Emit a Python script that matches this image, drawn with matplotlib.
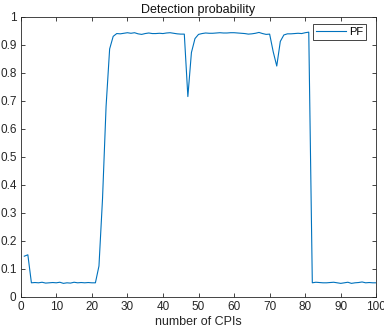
import matplotlib.pyplot as plt

plt.rcParams['font.family'] = ['Liberation Sans', 'DejaVu Sans']

# number of CPIs 1..100
cpi = list(range(1, 101))
pf = [0.145, 0.150, 0.050, 0.051, 0.050, 0.052, 0.049, 0.050, 0.051, 0.050,
      0.052, 0.048, 0.050, 0.049, 0.052, 0.050, 0.051, 0.050, 0.051, 0.050,
      0.050, 0.110, 0.350, 0.680, 0.885, 0.930, 0.940, 0.939, 0.941, 0.943,
      0.941, 0.943, 0.939, 0.937, 0.940, 0.942, 0.940, 0.940, 0.941, 0.940,
      0.942, 0.943, 0.941, 0.939, 0.938, 0.938, 0.715, 0.872, 0.922, 0.937,
      0.940, 0.942, 0.941, 0.941, 0.942, 0.943, 0.942, 0.942, 0.943, 0.943,
      0.942, 0.941, 0.940, 0.938, 0.939, 0.941, 0.944, 0.940, 0.937, 0.938,
      0.875, 0.824, 0.912, 0.935, 0.939, 0.939, 0.940, 0.941, 0.940, 0.943,
      0.945, 0.050, 0.052, 0.051, 0.050, 0.050, 0.051, 0.052, 0.050, 0.048,
      0.050, 0.052, 0.048, 0.050, 0.051, 0.053, 0.050, 0.051, 0.050, 0.050]

fig = plt.figure(figsize=(3.84, 3.35), dpi=100)
ax = fig.add_axes([0.054, 0.114, 0.926, 0.836])
ax.plot(cpi, pf, color='#0072BD', lw=0.8, label='PF')

ax.set_xlim(0, 100)
ax.set_ylim(0, 1)
ax.set_xticks(range(0, 101, 10))
ax.set_yticks([i / 10 for i in range(11)])
ax.set_yticklabels(['0'] + ['0.%d' % i for i in range(1, 10)] + ['1'])
ax.tick_params(direction='in', top=True, right=True, length=3,
               labelsize=8.5, colors='#262626', width=0.6, pad=3)
for s in ax.spines.values():
    s.set_color('#262626')
    s.set_linewidth(0.6)

ax.set_title('Detection probability', fontsize=9, color='#111111', pad=3)
ax.set_xlabel('number of CPIs', fontsize=9, color='#262626', labelpad=2)

leg = ax.legend(loc='upper right', fontsize=8, handlelength=2.7,
                fancybox=False, framealpha=1, borderpad=0.25,
                bbox_to_anchor=(0.972, 0.973), borderaxespad=0,
                handletextpad=0.3)
leg.get_frame().set_edgecolor('#262626')
leg.get_frame().set_linewidth(0.6)

fig.savefig('out.png', dpi=100)
